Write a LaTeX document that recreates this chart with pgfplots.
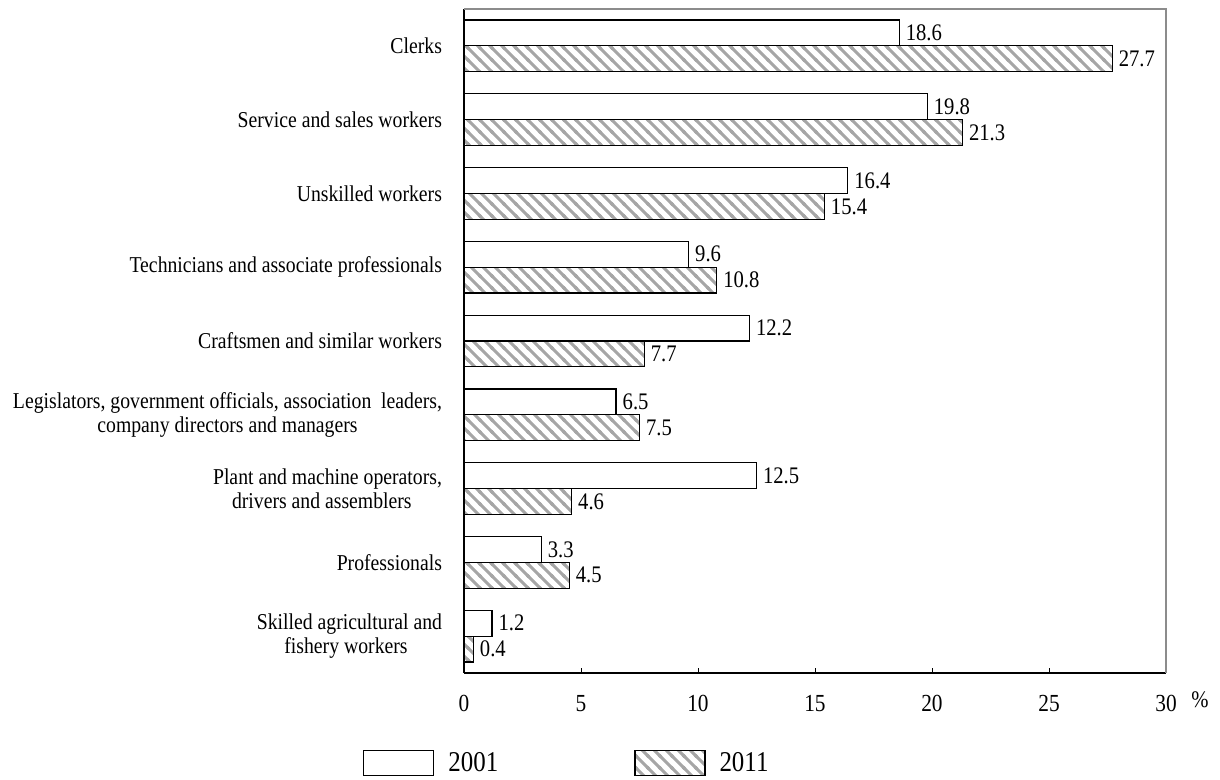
\documentclass[border=0pt]{standalone}
\usepackage{fontspec}
\setmainfont[FakeStretch=0.87]{Liberation Serif}
\usepackage{pgfplots}
\pgfplotsset{compat=1.18}
\usetikzlibrary{patterns}

% wide grey diagonal hatch, lines running top-left to bottom-right
\pgfdeclarepatternformonly{widehatch}{\pgfqpoint{-1pt}{-1pt}}{\pgfqpoint{10pt}{10pt}}{\pgfqpoint{9pt}{9pt}}{
  \pgfsetlinewidth{2.2pt}
  \pgfpathmoveto{\pgfqpoint{-0.5pt}{9.5pt}}\pgfpathlineto{\pgfqpoint{9.5pt}{-0.5pt}}
  \pgfpathmoveto{\pgfqpoint{-1pt}{1pt}}\pgfpathlineto{\pgfqpoint{1pt}{-1pt}}
  \pgfpathmoveto{\pgfqpoint{8pt}{10pt}}\pgfpathlineto{\pgfqpoint{10pt}{8pt}}
  \pgfusepath{stroke}}

\begin{document}
\begin{tikzpicture}
\begin{axis}[
  scale only axis,
  width=526.5pt, height=498pt,
  xmin=0, xmax=30, ymin=-0.5, ymax=8.5,
  axis x line*=bottom, axis y line*=left,
  axis line style={line width=0.9pt},
  xtick={0,5,...,30},
  ytick={0,...,8},
  yticklabels={
    {Skilled agricultural and\\fishery workers\hspace*{0.3em}},
    Professionals,
    {Plant and machine operators,\\drivers and assemblers\hspace*{0.5em}},
    {Legislators, government officials, association\ \ leaders,\\company directors and managers},
    Craftsmen and similar workers,
    Technicians and associate professionals,
    Unskilled workers,
    Service and sales workers,
    Clerks},
  y tick label style={font=\fontsize{17}{18}\selectfont, align=center, xshift=-9pt},
  x tick label style={font=\fontsize{18.4}{20}\selectfont, yshift=-13pt},
  ytick style={draw=none},
  xtick style={black, line width=0.7pt},
  xtick align=inside,
  major tick length=4pt,
  /pgf/number format/assume math mode=true,
  xbar, bar width=0.35,
  clip=false,
  nodes near coords={\pgfmathprintnumber[fixed,fixed zerofill,precision=1]{\pgfplotspointmeta}},
  nodes near coords style={font=\fontsize{17.8}{20}\selectfont, inner sep=4.5pt},
  legend columns=2,
  legend style={at={(0.147,-0.1355)}, anchor=center, draw=none,
    font=\fontsize{21.5}{24}\selectfont,
    /tikz/every even column/.append style={column sep=100pt}},
  legend image code/.code={\draw[#1] (0pt,-9.4pt) rectangle (52.5pt,9.4pt); \path (61pt,0pt);},
]
% 2001
\addplot[fill=white, draw=black, line width=0.9pt, bar shift=0.175]
coordinates {
(1.2,0) (3.3,1) (12.5,2) (6.5,3) (12.2,4) (9.6,5) (16.4,6) (19.8,7) (18.6,8)
};
% 2011
\addplot[pattern=widehatch, pattern color=black!35,
  draw=black, line width=0.9pt, bar shift=-0.175]
coordinates {
(0.4,0) (4.5,1) (4.6,2) (7.5,3) (7.7,4) (10.8,5) (15.4,6) (21.3,7) (27.7,8)
};
\legend{2001,2011}
\draw[black!45, line width=0.9pt] (rel axis cs:0,1) -- (rel axis cs:1,1) -- (rel axis cs:1,0);
\node[font=\fontsize{17.8}{20}\selectfont] at (rel axis cs:1,0) [xshift=25.5pt, yshift=-20pt] {\%};
\path (rel axis cs:0,0) ++(-348pt,-80.25pt) rectangle ++(915pt,585pt);
\end{axis}
\end{tikzpicture}
\end{document}
